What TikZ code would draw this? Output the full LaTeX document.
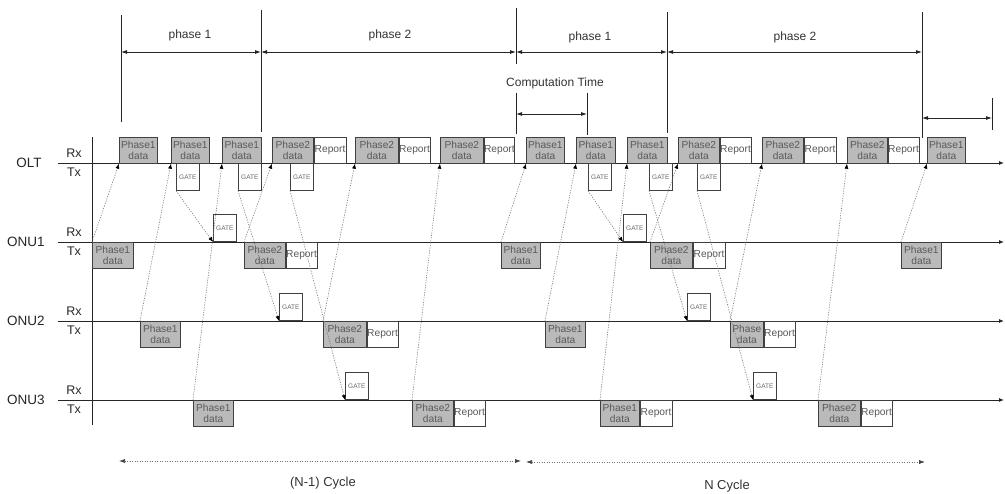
\documentclass[tikz,border=0pt]{standalone}
\usepackage{fontspec}
\setmainfont{Liberation Sans}
\usetikzlibrary{arrows.meta}
\begin{document}
\begin{tikzpicture}[x=1pt,y=-1pt,
  ln/.style={draw=black!85,line width=0.8pt},
  bx/.style={draw=black!75,line width=0.7pt,inner sep=0pt,align=center,anchor=north west,
     minimum height=26,text=black!65,font=\fontsize{10.2}{10.8}\selectfont},
  dbox/.style={bx,fill=black!27},
  rbox/.style={bx,fill=white},
  gbox/.style={draw=black!75,line width=0.7pt,fill=white,inner sep=0pt,minimum width=23,
     minimum height=27,text=black!60,font=\fontsize{6.5}{6.5}\selectfont},
  sig/.style={draw=black!55,line width=0.55pt,dash pattern=on 1.2pt off 1.3pt,
     -{Latex[length=5pt,width=4pt,color=black]}},
  dim/.style={draw=black!85,line width=0.8pt,{Latex[length=6pt,width=4pt]}-{Latex[length=6pt,width=4pt]}},
  cyc/.style={draw=black!55,line width=0.6pt,dash pattern=on 1.2pt off 1.3pt,
     {Latex[length=6pt,width=4pt,color=black!75]}-{Latex[length=6pt,width=4pt,color=black!75]}},
  lbl/.style={text=black!80,font=\fontsize{12}{12}\selectfont,inner sep=0pt},
  nm/.style={text=black!85,font=\fontsize{13.5}{13.5}\selectfont,inner sep=0pt},
  rt/.style={text=black!85,font=\fontsize{12.5}{12.5}\selectfont,inner sep=0pt}]
\useasboundingbox (0,0) rectangle (1005,494);

% ---- time axes ----
\coordinate (L0) at (58,163); \coordinate (R0) at (1004,163);
\coordinate (L1) at (58,242); \coordinate (R1) at (1004,242);
\coordinate (L2) at (58,321); \coordinate (R2) at (1004,321);
\coordinate (L3) at (58,400); \coordinate (R3) at (1004,400);
\draw[ln,-{Latex[length=5pt,width=4pt]}] (L0) -- (R0);
\draw[ln,-{Latex[length=5pt,width=4pt]}] (L1) -- (R1);
\draw[ln,-{Latex[length=5pt,width=4pt]}] (L2) -- (R2);
\draw[ln,-{Latex[length=5pt,width=4pt]}] (L3) -- (R3);
\coordinate (vt) at (92,137); \coordinate (vb) at (92,425);
\draw[ln] (vt) -- (vb);

\node[nm] (nOLT) at (29,163) {OLT};
\node[nm] (nONU1) at (26,242) {ONU1};
\node[nm] (nONU2) at (26,321) {ONU2};
\node[nm] (nONU3) at (26,400) {ONU3};
\foreach \y/\n in {163/0,242/1,321/2,400/3}{
  \node[rt] (rx\n) at (74,\y-10) {Rx};
  \node[rt] (tx\n) at (74,\y+9) {Tx};
}

% ---- phase boundaries ----
\coordinate (a1) at (121,15);  \coordinate (b1) at (121,122);
\coordinate (a2) at (261,10);  \coordinate (b2) at (261,132);
\coordinate (a3) at (516,8);   \coordinate (b3) at (516,64);
\coordinate (a4) at (667,12);  \coordinate (b4) at (667,133);
\coordinate (a5) at (922,12);  \coordinate (b5) at (922,138);
\coordinate (a6) at (587,93);  \coordinate (b6) at (587,135);
\coordinate (a7) at (992,98);  \coordinate (b7) at (992,130);
\coordinate (a8) at (516,93);  \coordinate (b8) at (516,134);
\foreach \i in {1,...,8}{\draw[ln] (a\i) -- (b\i);}

\coordinate (p1) at (121,52); \coordinate (p2) at (261,52);
\coordinate (p3) at (516,52); \coordinate (p4) at (667,52);
\coordinate (p5) at (922,52);
\draw[dim] (p1) -- (p2);
\draw[dim] (p2) -- (p3);
\draw[dim] (p3) -- (p4);
\draw[dim] (p4) -- (p5);
\node[lbl] (ph1) at (190,35) {phase 1};
\node[lbl] (ph2) at (390,35) {phase 2};
\node[lbl] (ph3) at (590,37) {phase 1};
\node[lbl] (ph4) at (795,37) {phase 2};
\node[lbl] (ct) at (555,83) {Computation Time};
\coordinate (c1) at (516,114); \coordinate (c2) at (587,114);
\draw[dim] (c1) -- (c2);
\coordinate (c3) at (922,118); \coordinate (c4) at (992,118);
\draw[dim] (c3) -- (c4);

% ---- cycles ----
\coordinate (y1) at (119,461); \coordinate (y2) at (521,461);
\coordinate (y3) at (526,462); \coordinate (y4) at (925,462);
\draw[cyc] (y1) -- (y2);
\draw[cyc] (y3) -- (y4);
\node[lbl,font=\fontsize{13}{13}\selectfont] (cy1) at (323,483) {(N-1) Cycle};
\node[lbl,font=\fontsize{13}{13}\selectfont] (cy2) at (727,486) {N Cycle};

% ---- OLT Rx ----
\node[dbox,minimum width=38] (oa1) at (119,137) {Phase1\\data};
\node[dbox,minimum width=38] (oa2) at (171,137) {Phase1\\data};
\node[dbox,minimum width=39] (oa3) at (222,137) {Phase1\\data};
\node[dbox,minimum width=41] (ob1) at (272,137) {Phase2\\data};
\node[rbox,minimum width=32] (or1) at (ob1.north east) {Report};
\node[dbox,minimum width=43] (ob2) at (355,137) {Phase2\\data};
\node[rbox,minimum width=31] (or2) at (ob2.north east) {Report};
\node[dbox,minimum width=43] (ob3) at (440,137) {Phase2\\data};
\node[rbox,minimum width=30] (or3) at (ob3.north east) {Report};
\node[dbox,minimum width=38] (oa4) at (526,137) {Phase1\\data};
\node[dbox,minimum width=39] (oa5) at (576,137) {Phase1\\data};
\node[dbox,minimum width=40] (oa6) at (627,137) {Phase1\\data};
\node[dbox,minimum width=41] (ob4) at (678,137) {Phase2\\data};
\node[rbox,minimum width=31] (or4) at (ob4.north east) {Report};
\node[dbox,minimum width=41] (ob5) at (762,137) {Phase2\\data};
\node[rbox,minimum width=32] (or5) at (ob5.north east) {Report};
\node[dbox,minimum width=40] (ob6) at (847,137) {Phase2\\data};
\node[rbox,minimum width=31] (or6) at (ob6.north east) {Report};
\node[dbox,minimum width=38] (oa7) at (927,137) {Phase1\\data};

% ---- OLT Tx GATE ----
\node[gbox,anchor=north west] (g1) at (176,163) {GATE};
\node[gbox,anchor=north west] (g2) at (238,163) {GATE};
\node[gbox,anchor=north west] (g3) at (290,163) {GATE};
\node[gbox,anchor=north west] (g4) at (588,163) {GATE};
\node[gbox,anchor=north west] (g5) at (649,163) {GATE};
\node[gbox,anchor=north west] (g6) at (697,163) {GATE};

% ---- ONU1 ----
\node[dbox,minimum width=41] (u1a) at (92,242) {Phase1\\data};
\node[dbox,minimum width=41] (u1b) at (244,242) {Phase2\\data};
\node[rbox,minimum width=31] (r1b) at (u1b.north east) {Report};
\node[dbox,minimum width=39] (u1c) at (501,242) {Phase1\\data};
\node[dbox,minimum width=42] (u1d) at (650,242) {Phase2\\data};
\node[rbox,minimum width=32] (r1d) at (u1d.north east) {Report};
\node[dbox,minimum width=40] (u1e) at (901,242) {Phase1\\data};
\node[gbox,anchor=south west] (h1) at (213,242) {GATE};
\node[gbox,anchor=south west] (h2) at (623,242) {GATE};

% ---- ONU2 ----
\node[dbox,minimum width=40] (u2a) at (140,321) {Phase1\\data};
\node[dbox,minimum width=43] (u2b) at (323,321) {Phase2\\data};
\node[rbox,minimum width=31] (r2b) at (u2b.north east) {Report};
\node[dbox,minimum width=40] (u2c) at (545,321) {Phase1\\data};
\node[dbox,minimum width=33] (u2d) at (730,321) {Phase\\data};
\node[rbox,minimum width=31] (r2d) at (u2d.north east) {Report};
\node[gbox,anchor=south west] (h3) at (279,321) {GATE};
\node[gbox,anchor=south west] (h4) at (687,321) {GATE};

% ---- ONU3 ----
\node[dbox,minimum width=40] (u3a) at (193,400) {Phase1\\data};
\node[dbox,minimum width=41] (u3b) at (412,400) {Phase2\\data};
\node[rbox,minimum width=31] (r3b) at (u3b.north east) {Report};
\node[dbox,minimum width=39] (u3c) at (600,400) {Phase1\\data};
\node[rbox,minimum width=32] (r3c) at (u3c.north east) {Report};
\node[dbox,minimum width=42] (u3d) at (818,400) {Phase2\\data};
\node[rbox,minimum width=31] (r3d) at (u3d.north east) {Report};
\node[gbox,anchor=south west] (h5) at (345,400) {GATE};
\node[gbox,anchor=south west] (h6) at (753,400) {GATE};

% ---- upstream signals ----
\draw[sig] (u1a.north west) -- (oa1.south west);
\draw[sig] (u2a.north west) -- (oa2.south west);
\draw[sig] (u3a.north west) -- (oa3.south west);
\draw[sig] (u1b.north west) -- (ob1.south west);
\draw[sig] (u2b.north west) -- (ob2.south west);
\draw[sig] (u3b.north west) -- (ob3.south west);
\draw[sig] (u1c.north west) -- (oa4.south west);
\draw[sig] (u2c.north west) -- (oa5.south west);
\draw[sig] (u3c.north west) -- (oa6.south west);
\draw[sig] (u1d.north west) -- (ob4.south west);
\draw[sig] (u2d.north west) -- (ob5.south west);
\draw[sig] (u3d.north west) -- (ob6.south west);
\draw[sig] (u1e.north west) -- (oa7.south west);

% ---- downstream GATE ----
\draw[sig] (g1.south west) -- (h1.south west);
\draw[sig] (g2.south west) -- (h3.south west);
\draw[sig] (g3.south west) -- (h5.south west);
\draw[sig] (g4.south west) -- (h2.south west);
\draw[sig] (g5.south west) -- (h4.south west);
\draw[sig] (g6.south west) -- (h6.south west);
\end{tikzpicture}
\end{document}
